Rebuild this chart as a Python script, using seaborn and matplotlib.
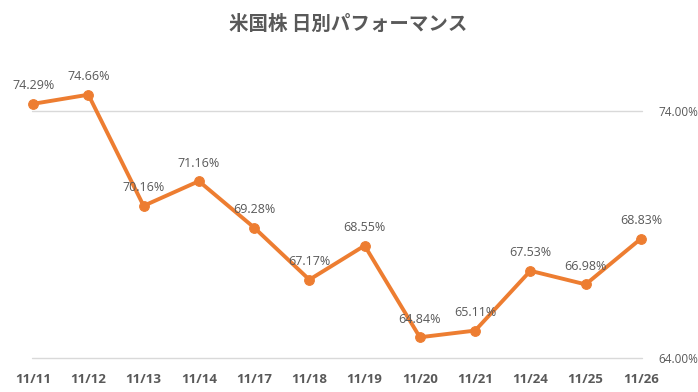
import matplotlib
matplotlib.use("Agg")
import matplotlib.pyplot as plt
import seaborn as sns
import pandas as pd

dates = ["11/11", "11/12", "11/13", "11/14", "11/17", "11/18",
         "11/19", "11/20", "11/21", "11/24", "11/25", "11/26"]
values = [74.29, 74.66, 70.16, 71.16, 69.28, 67.17,
          68.55, 64.84, 65.11, 67.53, 66.98, 68.83]
yticks = [64.0, 74.0]
title = "米国株 日別パフォーマンス"

sns.set_theme(style="white")
plt.rcParams['font.family'] = ['Noto Sans CJK JP', 'DejaVu Sans']

df = pd.DataFrame({"date": dates, "value": values})

fig = plt.figure(figsize=(6.98, 3.92), dpi=100)
ax = fig.add_axes([32/698, 1 - 358/392, (642 - 32)/698, (358 - 111)/392])

color = "#ED7D31"
sns.lineplot(data=df, x="date", y="value", sort=False, ax=ax, color=color,
             linewidth=2.8, marker="o", markersize=7, markeredgecolor=color,
             clip_on=False, zorder=3)

ax.set_xlim(-0.02, len(dates) - 1 + 0.02)
ax.set_ylim(yticks[0], yticks[-1])
ax.set_yticks(yticks)
ax.set_yticklabels([f"{v:.2f}%" for v in yticks], color="#595959",
                   fontsize=8.5, family=["Open Sans", "DejaVu Sans"])
ax.yaxis.tick_right()
ax.set_xticks(range(len(dates)))
ax.set_xticklabels(dates, color="#595959", fontsize=9.5, fontweight="bold",
                   family=["Open Sans", "DejaVu Sans"])
ax.tick_params(axis="both", length=0)
ax.tick_params(axis="x", pad=11)
ax.tick_params(axis="y", pad=12)
ax.set_xlabel("")
ax.set_ylabel("")
for s in ax.spines.values():
    s.set_visible(False)
ax.grid(False)
for v in yticks:
    ax.axhline(v, color="#D9D9D9", linewidth=1, zorder=1, clip_on=False)

for i, v in enumerate(values):
    ax.annotate(f"{v:.2f}%", (i, v), xytext=(0, 13), textcoords="offset points",
                ha="center", va="center", fontsize=9, color="#595959",
                family=["Open Sans", "DejaVu Sans"], zorder=4,
                annotation_clip=False)

fig.text(348/698, 1 - 24/392, title, ha="center", va="center",
         fontsize=14, color="#595959", fontweight="bold")

fig.savefig("out.png", dpi=100)
